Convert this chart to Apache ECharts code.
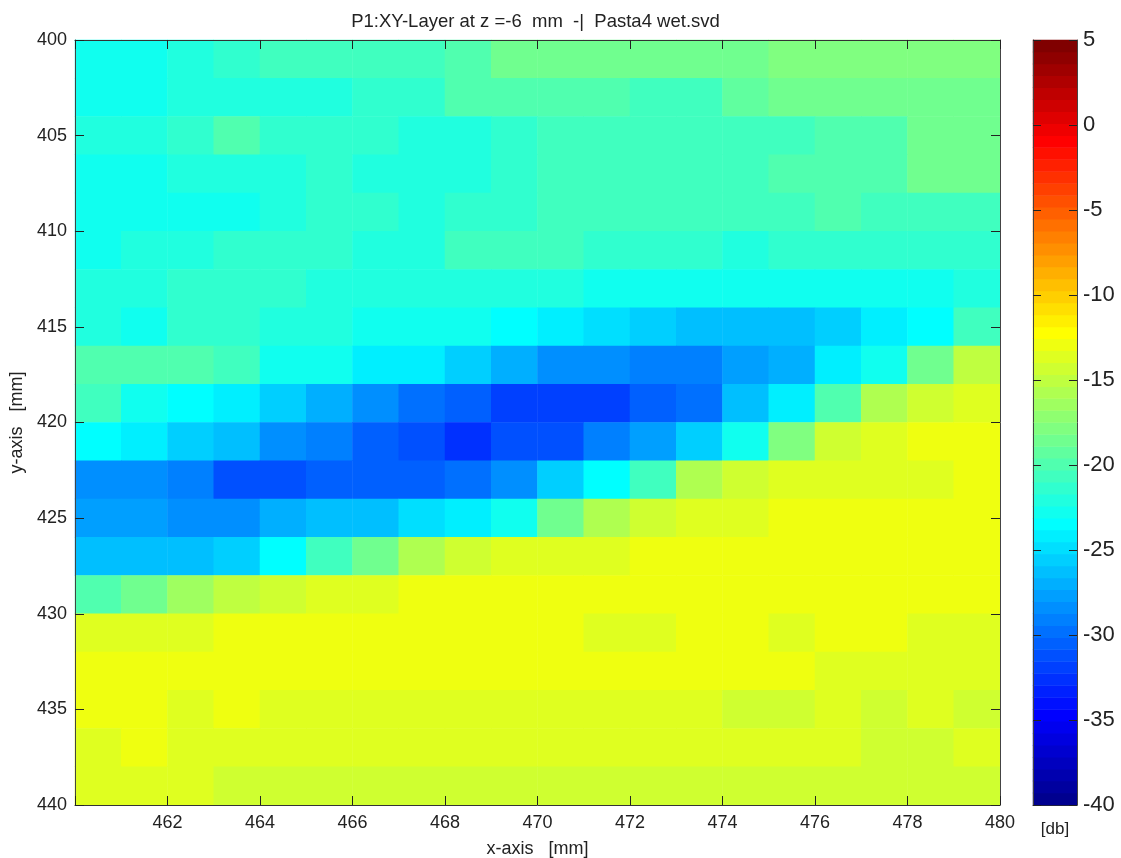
<!DOCTYPE html>
<html>
<head>
<meta charset="utf-8">
<style>html,body{margin:0;padding:0;background:#fff}#c{width:1121px;height:858px}</style>
<script src="https://cdn.jsdelivr.net/npm/echarts@6/dist/echarts.min.js"></script>
</head>
<body>
<div id="c"></div>
<script>
const xCells = ['460','461','462','463','464','465','466','467','468','469','470','471','472','473','474','475','476','477','478','479'];
const yCells = ['400','402','404','406','408','410','412','414','416','418','420','422','424','426','428','430','432','434','436','438'];
const xTicks = [460,462,464,466,468,470,472,474,476,478,480];
const yTicks = [400,405,410,415,420,425,430,435,440];
const cbarTicks = [5,0,-5,-10,-15,-20,-25,-30,-35,-40];

// dB per cell, one row per y band (top to bottom), left to right
const row00 = [-22.8,-22.8,-22.1,-21.4,-20.7,-20.7,-20.7,-20.7,-20.0,-18.6,-18.6,-18.6,-18.6,-18.6,-18.6,-17.9,-17.9,-17.9,-17.9,-17.9];
const row01 = [-22.8,-22.8,-22.1,-22.1,-22.1,-22.1,-21.4,-21.4,-20.0,-20.0,-20.0,-20.0,-20.7,-20.7,-19.3,-18.6,-18.6,-18.6,-18.6,-18.6];
const row02 = [-22.1,-22.1,-21.4,-20.0,-21.4,-21.4,-21.4,-22.1,-22.1,-21.4,-20.7,-20.7,-20.7,-20.7,-20.7,-20.7,-20.0,-20.0,-18.6,-18.6];
const row03 = [-22.8,-22.8,-22.1,-22.1,-22.1,-21.4,-22.1,-22.1,-22.1,-21.4,-20.7,-20.7,-20.7,-20.7,-20.7,-20.0,-20.0,-20.0,-18.6,-18.6];
const row04 = [-22.8,-22.8,-22.8,-22.8,-22.1,-21.4,-21.4,-22.1,-21.4,-21.4,-20.7,-20.7,-20.7,-20.7,-20.7,-20.7,-20.0,-20.7,-20.7,-20.7];
const row05 = [-22.8,-22.1,-22.1,-21.4,-21.4,-21.4,-22.1,-22.1,-20.7,-20.7,-20.7,-21.4,-21.4,-21.4,-22.1,-21.4,-21.4,-21.4,-21.4,-21.4];
const row06 = [-22.1,-22.1,-21.4,-21.4,-21.4,-22.1,-22.1,-22.1,-22.1,-22.1,-22.1,-22.8,-22.8,-22.8,-22.8,-22.8,-22.8,-22.8,-22.8,-22.1];
const row07 = [-22.1,-22.8,-21.4,-21.4,-22.1,-22.1,-22.8,-22.8,-22.8,-23.5,-24.2,-24.9,-25.6,-26.3,-26.3,-26.3,-25.6,-24.2,-23.5,-20.7];
const row08 = [-20.0,-20.0,-20.0,-20.7,-22.8,-22.8,-24.2,-24.2,-25.6,-27.0,-28.4,-28.4,-29.1,-29.1,-27.7,-27.0,-24.2,-22.8,-18.6,-15.0];
const row09 = [-20.7,-22.8,-23.5,-24.2,-25.6,-27.0,-28.4,-29.8,-30.5,-31.9,-31.9,-31.9,-30.5,-29.8,-26.3,-24.2,-20.0,-15.7,-14.3,-13.6];
const row10 = [-23.5,-24.2,-25.6,-26.3,-28.4,-29.1,-30.5,-31.2,-32.6,-31.2,-31.2,-29.1,-27.7,-25.6,-22.8,-17.9,-14.3,-13.6,-12.9,-12.9];
const row11 = [-28.4,-28.4,-29.1,-31.2,-31.2,-30.5,-30.5,-30.5,-29.8,-28.4,-25.6,-23.5,-20.7,-15.7,-14.3,-13.6,-13.6,-13.6,-13.6,-12.9];
const row12 = [-27.7,-27.7,-28.4,-28.4,-27.0,-26.3,-26.3,-24.9,-24.2,-22.8,-18.6,-15.7,-14.3,-13.6,-13.6,-12.9,-12.9,-12.9,-12.9,-12.9];
const row13 = [-26.3,-26.3,-26.3,-25.6,-23.5,-20.7,-18.6,-15.7,-14.3,-13.6,-13.6,-13.6,-12.9,-12.9,-12.9,-12.9,-12.9,-12.9,-12.9,-12.9];
const row14 = [-20.0,-18.6,-16.5,-15.0,-14.3,-13.6,-13.6,-12.9,-12.9,-12.9,-12.9,-12.9,-12.9,-12.9,-12.9,-12.9,-12.9,-12.9,-12.9,-12.9];
const row15 = [-13.6,-13.6,-13.6,-12.9,-12.9,-12.9,-12.9,-12.9,-12.9,-12.9,-12.9,-13.6,-13.6,-12.9,-12.9,-13.6,-12.9,-12.9,-13.6,-13.6];
const row16 = [-12.9,-12.9,-12.9,-12.9,-12.9,-12.9,-12.9,-12.9,-12.9,-12.9,-12.9,-12.9,-12.9,-12.9,-12.9,-12.9,-13.6,-13.6,-13.6,-13.6];
const row17 = [-12.9,-12.9,-13.6,-12.9,-13.6,-13.6,-13.6,-13.6,-13.6,-13.6,-13.6,-13.6,-13.6,-13.6,-14.3,-14.3,-13.6,-14.3,-13.6,-14.3];
const row18 = [-13.6,-12.9,-13.6,-13.6,-13.6,-13.6,-13.6,-13.6,-13.6,-13.6,-13.6,-13.6,-13.6,-13.6,-13.6,-13.6,-13.6,-14.3,-14.3,-13.6];
const row19 = [-13.6,-13.6,-13.6,-14.3,-14.3,-14.3,-14.3,-14.3,-14.3,-14.3,-14.3,-14.3,-14.3,-14.3,-14.3,-14.3,-14.3,-14.3,-14.3,-14.3];
const rows = [row00,row01,row02,row03,row04,row05,row06,row07,row08,row09,row10,row11,row12,row13,row14,row15,row16,row17,row18,row19];

// colour bar levels (dB, bottom to top) and their jet colours
const cbarLevels = [-39.65,-38.95,-38.24,-37.54,-36.84,-36.13,-35.43,-34.73,-34.02,-33.32,-32.62,-31.91,-31.21,-30.51,-29.80,-29.10,-28.40,-27.70,-26.99,-26.29,-25.59,-24.88,-24.18,-23.48,-22.77,-22.07,-21.37,-20.66,-19.96,-19.26,-18.55,-17.85,-17.15,-16.45,-15.74,-15.04,-14.34,-13.63,-12.93,-12.23,-11.52,-10.82,-10.12,-9.41,-8.71,-8.01,-7.30,-6.60,-5.90,-5.20,-4.49,-3.79,-3.09,-2.38,-1.68,-0.98,-0.27,0.43,1.13,1.84,2.54,3.24,3.95,4.65];
const jetColors = ['#00008f','#00009f','#0000af','#0000bf','#0000cf','#0000df','#0000ef','#0000ff','#0010ff','#0020ff','#0030ff','#0040ff','#0050ff','#0060ff','#0070ff','#0080ff','#008fff','#009fff','#00afff','#00bfff','#00cfff','#00dfff','#00efff','#00ffff','#10ffef','#20ffdf','#30ffcf','#40ffbf','#50ffaf','#60ff9f','#70ff8f','#80ff80','#8fff70','#9fff60','#afff50','#bfff40','#cfff30','#dfff20','#efff10','#ffff00','#ffef00','#ffdf00','#ffcf00','#ffbf00','#ffaf00','#ff9f00','#ff8f00','#ff8000','#ff7000','#ff6000','#ff5000','#ff4000','#ff3000','#ff2000','#ff1000','#ff0000','#ef0000','#df0000','#cf0000','#bf0000','#af0000','#9f0000','#8f0000','#800000'];

const FONT = '"Liberation Sans", Arial, sans-serif';
const INK = '#222';
const tickLine = { color: '#222', width: 1 };

const heatData = [];
rows.forEach((r, yi) => r.forEach((v, xi) => heatData.push([xi, yi, v])));
const cbarData = cbarLevels.map((v, i) => [0, i, v]);
const pieces = jetColors.map((color, i) => ({
  gte: i === 0 ? -40 : (cbarLevels[i - 1] + cbarLevels[i]) / 2,
  lt: i === jetColors.length - 1 ? 5.01 : (cbarLevels[i] + cbarLevels[i + 1]) / 2,
  color
}));

function valueX(pos, labels) {
  return {
    type: 'value', gridIndex: 0, position: pos, min: xTicks[0], max: xTicks[xTicks.length - 1], interval: 2, z: 10,
    axisLine: { show: true, onZero: false, lineStyle: { color: '#333', width: 1 } },
    axisTick: { show: true, inside: true, length: 9, lineStyle: tickLine },
    splitLine: { show: false },
    axisLabel: labels ? {
      show: true, color: INK, fontFamily: FONT, fontSize: 18, margin: 9, hideOverlap: false, showMinLabel: true, showMaxLabel: true,
      formatter: v => (v === xTicks[0] ? '' : String(v))
    } : { show: false },
    name: labels ? 'x-axis   [mm]' : '', nameLocation: 'middle', nameGap: 35,
    nameTextStyle: { color: INK, fontFamily: FONT, fontSize: 18 }
  };
}
function valueY(pos, labels) {
  return {
    type: 'value', gridIndex: 0, position: pos, inverse: true, min: yTicks[0], max: yTicks[yTicks.length - 1], interval: 5, z: 10,
    axisLine: { show: true, onZero: false, lineStyle: { color: '#444', width: 1 } },
    axisTick: { show: true, inside: true, length: 9, lineStyle: tickLine },
    splitLine: { show: false },
    axisLabel: labels ? { show: true, color: INK, fontFamily: FONT, fontSize: 18, margin: 8, showMinLabel: true, showMaxLabel: true } : { show: false },
    name: labels ? 'y-axis   [mm]' : '', nameLocation: 'middle', nameGap: 46, nameRotate: 90,
    nameTextStyle: { color: INK, fontFamily: FONT, fontSize: 18 }
  };
}
function cbarY(pos, labels) {
  return {
    type: 'value', gridIndex: 1, position: pos, min: -40, max: 5, interval: 5, z: 10,
    axisLine: { show: true, onZero: false, lineStyle: { color: '#444', width: 1 } },
    axisTick: { show: true, inside: true, length: 8, lineStyle: tickLine },
    splitLine: { show: false },
    axisLabel: labels ? { show: true, color: INK, fontFamily: FONT, fontSize: 22, margin: 6, showMinLabel: true, showMaxLabel: true } : { show: false }
  };
}

const chart = echarts.init(document.getElementById('c'), null, { renderer: 'canvas' });
chart.setOption({
  animation: false,
  backgroundColor: '#fff',
  title: {
    text: 'P1:XY-Layer at z =-6  mm  -|  Pasta4 wet.svd',
    left: 530.5, top: 7, textAlign: 'center',
    textStyle: { color: INK, fontFamily: FONT, fontSize: 18.5, fontWeight: 'normal' }
  },
  grid: [
    { left: 75, top: 40, width: 925, height: 765, containLabel: false, outerBoundsMode: 'none' },
    { left: 1033, top: 40, width: 44, height: 765, containLabel: false, outerBoundsMode: 'none' }
  ],
  xAxis: [
    { type: 'category', gridIndex: 0, data: xCells, show: false, position: 'bottom' },
    valueX('bottom', true),
    valueX('top', false),
    {
      type: 'category', gridIndex: 1, data: ['dB'], position: 'bottom', z: 10,
      axisLine: { show: true, onZero: false, lineStyle: { color: '#224', width: 1 } }, axisTick: { show: false }, axisLabel: { show: false },
      name: '[db]', nameLocation: 'middle', nameGap: 16,
      nameTextStyle: { color: INK, fontFamily: FONT, fontSize: 17 }
    }
  ],
  yAxis: [
    { type: 'category', gridIndex: 0, data: yCells, inverse: true, show: false, position: 'left' },
    valueY('left', true),
    valueY('right', false),
    { type: 'category', gridIndex: 1, data: cbarLevels.map(String), show: false, position: 'left' },
    cbarY('right', true),
    cbarY('left', false)
  ],
  visualMap: {
    type: 'piecewise', show: false, dimension: 2, seriesIndex: [0, 1], pieces
  },
  series: [
    { type: 'heatmap', xAxisIndex: 0, yAxisIndex: 0, data: heatData, silent: true, z: 1, progressive: 0 },
    { type: 'heatmap', xAxisIndex: 3, yAxisIndex: 3, data: cbarData, silent: true, z: 1, progressive: 0 }
  ]
});
</script>
</body>
</html>
